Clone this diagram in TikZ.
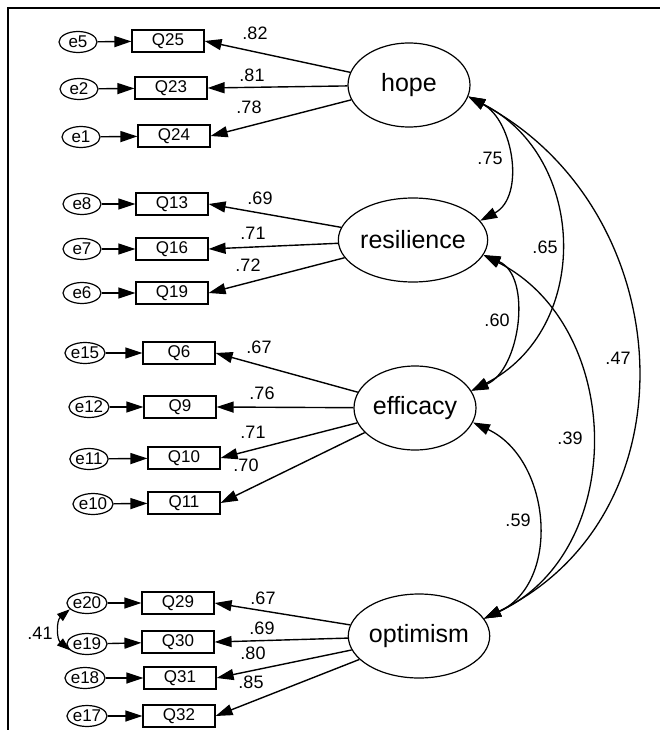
\documentclass[tikz,border=0pt]{standalone}
\usepackage{fontspec}
\setmainfont{Liberation Sans}
\usetikzlibrary{shapes.geometric,arrows.meta}
\tikzset{
  lat/.style={ellipse,draw,line width=1.2pt,minimum width=122pt,minimum height=84pt,inner sep=0pt,font=\fontsize{25}{25}\selectfont},
  obs/.style={rectangle,draw,line width=1.2pt,minimum width=72pt,minimum height=22pt,inner sep=0pt,font=\fontsize{17}{17}\selectfont},
  err/.style={ellipse,draw,line width=1.2pt,minimum width=38pt,minimum height=21pt,inner sep=0pt,font=\fontsize{17}{17}\selectfont},
  lab/.style={font=\fontsize{18}{18}\selectfont,inner sep=0pt},
  arr/.style={line width=1.4pt,-{Triangle[length=17pt,width=11pt]}},
  cov/.style={line width=1.3pt,{Triangle[length=17pt,width=11pt]}-{Triangle[length=17pt,width=11pt]}},
}
\begin{document}
\begin{tikzpicture}[x=1pt,y=1pt]
\useasboundingbox (0,0) rectangle (660,-730);
\draw[line width=1.3pt] (8,-730) -- (8,-8) -- (660,-8);
% latent
\node[lat] (hope) at (409,-85) {hope};
\node[lat] (resil) at (413,-240) {resilience};
\node[lat] (effic) at (415,-408) {efficacy};
\node[lat] (optim) at (419,-636) {optimism};
% observed
\node[obs] (Q25) at (168,-41) {Q25};
\node[obs] (Q23) at (171,-88) {Q23};
\node[obs] (Q24) at (174,-136) {Q24};
\node[obs] (Q13) at (172,-204) {Q13};
\node[obs] (Q16) at (172,-249) {Q16};
\node[obs] (Q19) at (172,-293) {Q19};
\node[obs] (Q6) at (179,-353) {Q6};
\node[obs] (Q9) at (180,-407) {Q9};
\node[obs] (Q10) at (184,-458) {Q10};
\node[obs] (Q11) at (184,-503) {Q11};
\node[obs] (Q29) at (178,-603) {Q29};
\node[obs] (Q30) at (178,-642) {Q30};
\node[obs] (Q31) at (180,-678) {Q31};
\node[obs] (Q32) at (179,-716) {Q32};
% errors
\node[err] (e5) at (78,-42) {e5};
\node[err] (e2) at (79,-89) {e2};
\node[err] (e1) at (81,-137) {e1};
\node[err] (e8) at (82,-204) {e8};
\node[err] (e7) at (82,-249) {e7};
\node[err] (e6) at (82,-293) {e6};
\node[err] (e15) at (85,-353) {e15};
\node[err] (e12) at (89,-407) {e12};
\node[err] (e11) at (89,-459) {e11};
\node[err] (e10) at (93,-504) {e10};
\node[err] (e20) at (87,-603) {e20};
\node[err] (e19) at (87,-644) {e19};
\node[err] (e18) at (85,-678) {e18};
\node[err] (e17) at (87,-716) {e17};
% error arrows
\foreach \e/\q in {e5/Q25,e2/Q23,e1/Q24,e8/Q13,e7/Q16,e6/Q19,e15/Q6,e12/Q9,e11/Q10,e10/Q11,e20/Q29,e19/Q30,e18/Q31,e17/Q32}
  \draw[arr] (\e) -- (\q);
% loadings
\foreach \l/\q in {hope/Q25,hope/Q23,hope/Q24,resil/Q13,resil/Q16,resil/Q19,effic/Q6,effic/Q9,effic/Q10,effic/Q11,optim/Q29,optim/Q30,optim/Q31,optim/Q32}
  \draw[arr] (\l) -- (\q.east);
% loading labels
\node[lab] (l1) at (255,-33) {.82};
\node[lab] (l2) at (252,-75) {.81};
\node[lab] (l3) at (249,-107) {.78};
\node[lab] (l4) at (260,-198) {.69};
\node[lab] (l5) at (253,-233) {.71};
\node[lab] (l6) at (248,-265) {.72};
\node[lab] (l7) at (259,-347) {.67};
\node[lab] (l8) at (262,-393) {.76};
\node[lab] (l9) at (253,-432) {.71};
\node[lab] (l10) at (246,-465) {.70};
\node[lab] (l11) at (263,-598) {.67};
\node[lab] (l12) at (262,-628) {.69};
\node[lab] (l13) at (253,-653) {.80};
\node[lab] (l14) at (251,-682) {.85};
% covariances
\draw[cov] (hope.-11) to[out=-28,in=28,looseness=1.05] (resil.16);
\draw[cov] (hope.-11) to[out=-27,in=27,looseness=1.17] (effic.17);
\draw[cov] (hope.-11) to[out=-28,in=26,looseness=1.17] (optim.15);
\draw[cov] (resil.-12) to[out=-23,in=23,looseness=1.0] (effic.17);
\draw[cov] (resil.-12) to[out=-27,in=25,looseness=1.12] (optim.15);
\draw[cov] (effic.-14) to[out=-25,in=25,looseness=1.12] (optim.15);
\draw[line width=1.2pt,{Triangle[length=13pt,width=9pt]}-{Triangle[length=13pt,width=9pt]}] (e20.200) to[out=220,in=140,looseness=1.1] (e19.200);
\node[lab] (c1) at (490,-158) {.75};
\node[lab] (c2) at (545,-247) {.65};
\node[lab] (c3) at (618,-358) {.47};
\node[lab] (c4) at (497,-320) {.60};
\node[lab] (c5) at (570,-438) {.39};
\node[lab] (c6) at (518,-520) {.59};
\node[lab] (c7) at (40,-633) {.41};
\end{tikzpicture}
\end{document}
